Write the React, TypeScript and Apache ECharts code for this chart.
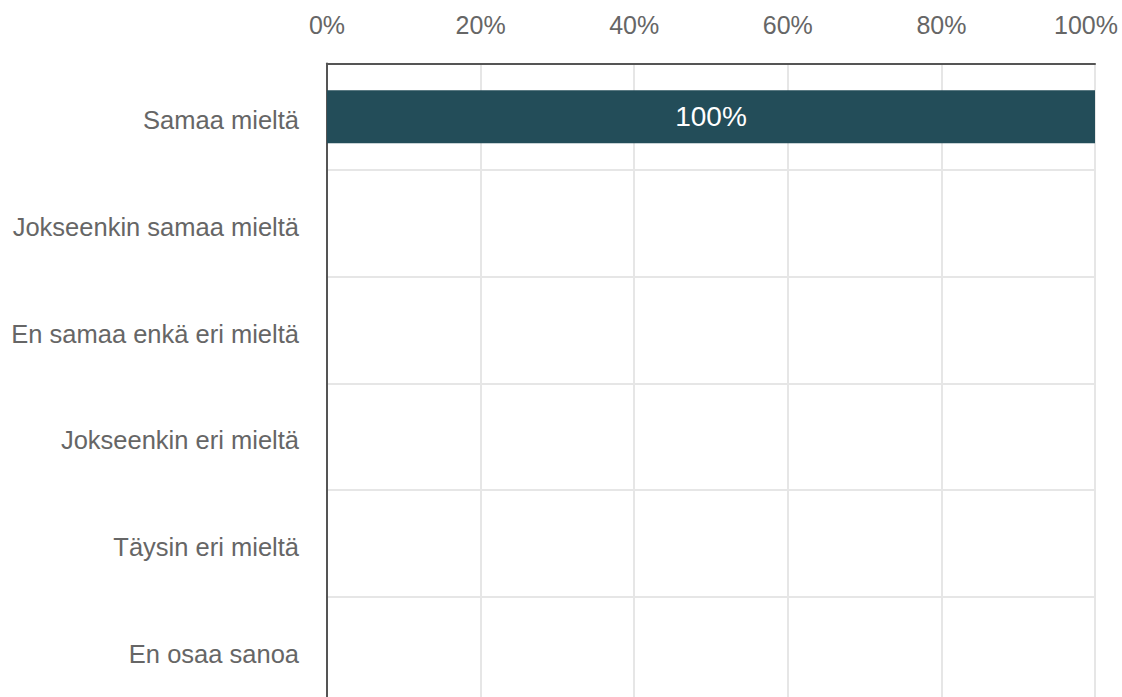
import React, { useEffect, useRef } from "react";
import * as echarts from "echarts";

const categories = [
  "Samaa mieltä",
  "Jokseenkin samaa mieltä",
  "En samaa enkä eri mieltä",
  "Jokseenkin eri mieltä",
  "Täysin eri mieltä",
  "En osaa sanoa",
];
const values = [100, 0, 0, 0, 0, 0];
const tickStep = 20;

const FONT = "'Liberation Sans', Arial, sans-serif";

export default function App() {
  const ref = useRef<HTMLDivElement>(null);
  useEffect(() => {
    if (!ref.current) return;
    const chart = echarts.init(ref.current, null, { renderer: "svg" });
    chart.setOption({
      animation: false,
      backgroundColor: "#ffffff",
      grid: { left: 327, right: 27, top: 63.5, height: 640, containLabel: false },
      xAxis: {
        type: "value",
        position: "top",
        min: 0,
        max: 100,
        interval: tickStep,
        axisLine: { show: true, lineStyle: { color: "#555555", width: 2 } },
        axisTick: { show: false },
        splitLine: { show: true, lineStyle: { color: "#e6e6e6", width: 2 } },
        axisLabel: {
          margin: 26,
          color: "#666666",
          fontSize: 25,
          fontFamily: FONT,
          formatter: (v: number) => (v === 100 ? "{last|" + v + "%}" : v + "%"),
          rich: {
            last: {
              color: "#666666",
              fontSize: 25,
              fontFamily: FONT,
              padding: [0, 18, 0, 0],
            },
          },
        },
      },
      yAxis: {
        type: "category",
        inverse: true,
        data: categories,
        axisLine: { show: true, lineStyle: { color: "#555555", width: 2 } },
        axisTick: { show: false },
        splitLine: { show: true, lineStyle: { color: "#e6e6e6", width: 2 } },
        axisLabel: {
          margin: 28,
          color: "#666666",
          fontSize: 25.5,
          fontFamily: FONT,
          formatter: (v: string) => "{c|" + v + "}",
          rich: {
            c: {
              color: "#666666",
              fontSize: 25.5,
              fontFamily: FONT,
              padding: [7, 0, 0, 0],
            },
          },
        },
      },
      series: [
        {
          type: "bar",
          data: values,
          barWidth: 53,
          itemStyle: { color: "#234d59" },
          label: {
            show: true,
            position: "inside",
            color: "#ffffff",
            fontSize: 28,
            fontFamily: FONT,
            formatter: (p: any) => (p.value > 0 ? p.value + "%" : ""),
          },
        },
      ],
    });
    return () => chart.dispose();
  }, []);
  return (
    <div style={{ position: "fixed", left: 0, top: 0, width: 1122, height: 697, overflow: "hidden" }}>
      <div ref={ref} style={{ width: 1122, height: 712 }} />
    </div>
  );
}
